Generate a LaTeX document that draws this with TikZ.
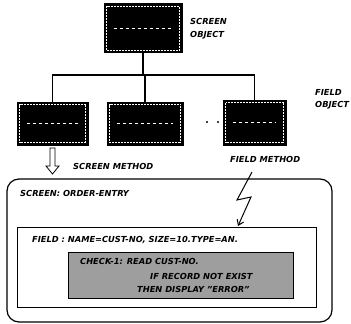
\documentclass[tikz,border=0pt]{standalone}
\usepackage{fontspec}
\setsansfont{DejaVu Sans}
\usetikzlibrary{patterns,arrows.meta}
\begin{document}
\begin{tikzpicture}[x=1pt,y=-1pt,
  lbl/.style={anchor=west,inner sep=0pt,font=\sffamily\bfseries\itshape\fontsize{8.3}{9}\selectfont},
  obj/.style={draw=black,fill=black,line width=0.8pt,inner sep=0pt},
  conn/.style={line width=1.2pt},
]
\useasboundingbox (0,0) rectangle (351,324);
% objects
\node[obj,minimum width=78pt,minimum height=49pt] (top) at (143,28) {};
\node[obj,minimum width=71pt,minimum height=43pt] (f1) at (52.5,123.5) {};
\node[obj,minimum width=76pt,minimum height=43pt] (f2) at (145,123.5) {};
\node[obj,minimum width=63pt,minimum height=45pt] (f3) at (254.5,122.5) {};
\foreach \n in {top,f1,f2,f3}{
  \draw[white,densely dotted,line width=0.5pt] ([shift={(3,-3)}]\n.south west) rectangle ([shift={(-3,3)}]\n.north east);
  \draw[white,dashed,line width=0.4pt] ([shift={(10,0)}]\n.west) -- ([shift={(-10,0)}]\n.east);
}
% tree connectors
\coordinate (j) at (142,75);
\draw[conn] (top.south) -- (top.south |- j);
\draw[conn] (f1.north) -- (f1.north |- j) -- (f3.north |- j) -- (f3.north);
\draw[conn] (f2.north) -- (f2.north |- j);
% dots
\fill (207,122) circle (1.1pt);
\fill (218,122) circle (1.1pt);
% labels
\node[lbl] (so1) at (190,21) {SCREEN};
\node[lbl] (so2) at (190,35) {OBJECT};
\node[lbl] (fo1) at (315,92) {FIELD};
\node[lbl] (fo2) at (315,105) {OBJECT};
\node[lbl] (sm) at (73,166) {SCREEN METHOD};
\node[lbl] (fm) at (230,159) {FIELD METHOD};
% big screen box
\draw[line width=1.2pt,rounded corners=12pt] (7,179) rectangle (332,322);
\node[lbl] (scr) at (20,193) {SCREEN: ORDER-ENTRY};
% field box
\draw[line width=1pt] (17,227) rectangle (316,307);
\node[lbl] (fld) at (32,240) {FIELD : NAME=CUST-NO, SIZE=10.TYPE=AN.};
% check box
\node[draw=black,line width=1pt,fill=black!38,minimum width=225pt,minimum height=46pt,inner sep=0pt] (chk) at (180.5,275) {};
\node[lbl] (c1) at (80,261) {CHECK-1: READ CUST-NO.};
\node[lbl] (c2) at (150,276) {IF RECORD NOT EXIST};
\node[lbl] (c3) at (137,289) {THEN DISPLAY "ERROR"};
% hollow arrow (screen method)
\draw[line width=0.8pt,fill=white] (50,148) -- (55,148) -- (55,166) -- (59,166) -- (52.5,174) -- (46,166) -- (50,166) -- cycle;
% lightning (field method)
\coordinate (l0) at (252,172);
\coordinate (l3) at (238,226);
\draw[line width=1pt,-{Straight Barb[length=5pt,width=7pt]}] (l0) -- (237,200) -- (251,197) -- (l3);
\end{tikzpicture}
\end{document}
